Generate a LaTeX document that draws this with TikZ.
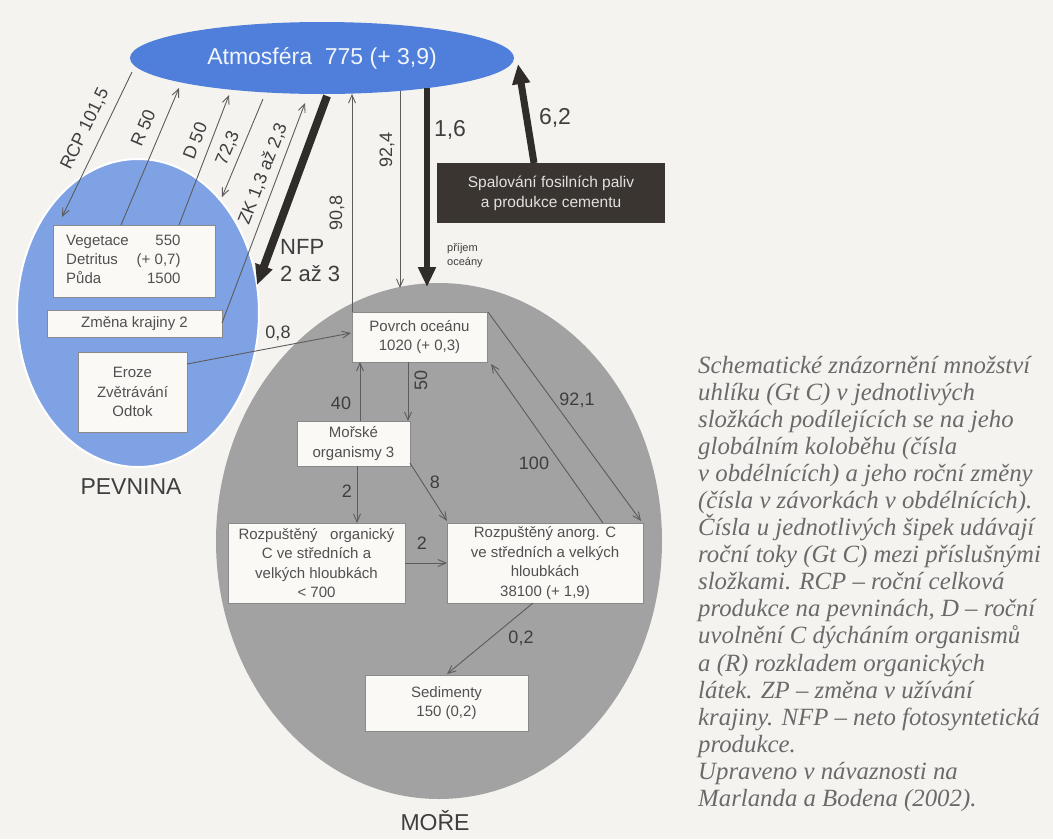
\documentclass[tikz,border=0pt]{standalone}
\usepackage{fontspec}
\setmainfont{Liberation Sans}
\newfontfamily\capfont{Liberation Serif}
\usetikzlibrary{shapes.geometric,arrows.meta,calc}
\definecolor{bgc}{HTML}{F4F3EF}
\definecolor{atmc}{HTML}{4F7FDA}
\definecolor{landc}{HTML}{7FA2E4}
\definecolor{seac}{HTML}{A2A2A2}
\definecolor{boxc}{HTML}{FAF9F5}
\definecolor{boxline}{HTML}{8A8A8A}
\definecolor{txtc}{HTML}{505050}
\definecolor{lblc}{HTML}{3E3E3E}
\definecolor{linec}{HTML}{5C5C5C}
\definecolor{thickc}{HTML}{302C2A}
\definecolor{spalc}{HTML}{3A3531}
\definecolor{capc}{HTML}{6A6A6A}
\tikzset{
  boxn/.style={draw=boxline, line width=0.8pt, fill=boxc, inner sep=0pt, align=center,
    text=txtc, font=\fontsize{15}{19.5}\selectfont},
  thinarr/.style={draw=linec, line width=0.9pt, -{Straight Barb[length=8pt,width=7pt]}},
  thickarr/.style={draw=thickc, line width=7pt, -{Triangle[length=20pt,width=17pt]}},
  flowlbl/.style={text=lblc, inner sep=0pt, font=\fontsize{18}{20}\selectfont},
  biglbl/.style={text=lblc, inner sep=0pt, font=\fontsize{23}{26}\selectfont},
  regionlbl/.style={text=lblc, inner sep=0pt, font=\fontsize{23}{26}\selectfont}
}
\begin{document}
\begin{tikzpicture}[x=1pt,y=-1pt]
\fill[bgc] (0,0) rectangle (1053,839);
\useasboundingbox (0,0) rectangle (1053,839);

% regions
\node[ellipse, fill=seac, minimum width=446pt, minimum height=516pt, inner sep=0pt] (sea) at (439,541) {};
\node[ellipse, fill=landc, draw=white, line width=2pt, minimum width=242pt, minimum height=308pt, inner sep=0pt] (land) at (138,313) {};
\node[ellipse, fill=atmc, minimum width=384pt, minimum height=72pt, inner sep=0pt,
  text=white!92!atmc, font=\fontsize{23}{26}\selectfont] (atm) at (322,58) {Atmosféra\ \ 775 (+ 3,9)};

\node[regionlbl] (pev) at (131,487) {PEVNINA};
\node[regionlbl] (more) at (435,821) {MOŘE};

% boxes
\node[boxn, minimum width=162pt, minimum height=72pt] (veg) at (134,261) {};
\node[text=txtc, inner sep=0pt, font=\fontsize{15}{19}\selectfont, anchor=west] (vegtxt) at (66,261)
  {\begin{tabular}{@{}l@{\hspace{8pt}}r@{}}Vegetace & 550\\ Detritus & (+ 0,7)\\ Půda & 1500\end{tabular}};
\node[boxn, minimum width=175pt, minimum height=27pt] (zmena) at (134.5,323.5) {Změna krajiny 2};
\node[boxn, minimum width=109pt, minimum height=80pt] (eroze) at (132.5,392) {Eroze\\Zvětrávání\\Odtok};
\node[boxn, minimum width=135pt, minimum height=50pt] (povrch) at (419.5,337) {Povrch oceánu\\1020 (+ 0,3)};
\node[boxn, minimum width=113pt, minimum height=45pt] (morske) at (353.5,443.5) {Mořské\\organismy 3};
\node[boxn, minimum width=177pt, minimum height=80pt] (rorg) at (316.5,563) {Rozpuštěný\ \ \ organický\\C ve středních a\\velkých hloubkách\\< 700};
\node[boxn, minimum width=196pt, minimum height=80pt] (ranorg) at (545,563) {Rozpuštěný anorg. C\\ve středních a velkých\\hloubkách\\38100 (+ 1,9)};
\node[boxn, minimum width=163pt, minimum height=56pt] (sed) at (446.5,703) {Sedimenty\\150 (0,2)};
\node[fill=spalc, minimum width=228pt, minimum height=60pt, inner sep=0pt, align=center,
  text=white!85!spalc, font=\fontsize{15.5}{20}\selectfont] (spal) at (551,193) {Spalování fosilních paliv\\ a produkce cementu};

% end points
\coordinate (rcpA) at (132,72);  \coordinate (rcpB) at (62,217);
\coordinate (rA) at (121,225);   \coordinate (rB) at (179,88);
\coordinate (dA) at (179,225);   \coordinate (dB) at (229,95);
\coordinate (vA) at (263,99);    \coordinate (vB) at (222,197);
\coordinate (zA) at (222,323);   \coordinate (zB) at (305,103);
\coordinate (nA) at (327,96);    \coordinate (nB) at (257,285);
\coordinate (oA) at (352,312);   \coordinate (oB) at (352,94);
\coordinate (pA) at (400,91);    \coordinate (pB) at (400,288);
\coordinate (qA) at (427,88);    \coordinate (qB) at (427,287);
\coordinate (fA) at (534,163);   \coordinate (fB) at (518,64);
\coordinate (eA) at (187,364);   \coordinate (eB) at (351,333);
\coordinate (s50A) at (408,362); \coordinate (s50B) at (408,421);
\coordinate (s40A) at (360,421); \coordinate (s40B) at (360,362);
\coordinate (s2A) at (357,466);  \coordinate (s2B) at (357,523);
\coordinate (s8A) at (410,463);  \coordinate (s8B) at (447,521);
\coordinate (h2A) at (405,563);  \coordinate (h2B) at (447,563);
\coordinate (c100A) at (603,523);\coordinate (c100B) at (491,364);
\coordinate (c92A) at (488,312); \coordinate (c92B) at (641,521);
\coordinate (c02A) at (533,603); \coordinate (c02B) at (447,674);

% atmosphere fluxes
\draw[thinarr] (rcpA) -- (rcpB);
\draw[thinarr] (rA) -- (rB);
\draw[thinarr] (dA) -- (dB);
\draw[thinarr] (vA) -- (vB);
\draw[thinarr] (zA) -- (zB);
\draw[thickarr, line width=8pt] (nA) -- (nB);
\draw[thinarr] (oA) -- (oB);
\draw[thinarr] (pA) -- (pB);
\draw[thickarr, line width=6.5pt] (qA) -- (qB);
\draw[thickarr] (fA) -- (fB);

\node[flowlbl, rotate=64] (lrcp) at (85,129) {RCP 101,5};
\node[flowlbl, rotate=67] (lr) at (143,128) {R 50};
\node[flowlbl, rotate=69] (ld) at (195,141) {D 50};
\node[flowlbl, rotate=67] (lv) at (228,148) {72,3};
\node[flowlbl, rotate=69] (lz) at (263,174) {ZK 1,3 až 2,3};
\node[biglbl, align=left, anchor=west, font=\fontsize{22}{27}\selectfont] (lnfp) at (280,261) {NFP\\2 až 3};
\node[flowlbl, rotate=90] (lo) at (337,213) {90,8};
\node[flowlbl, rotate=90] (lp) at (387,150) {92,4};
\node[biglbl] (lq) at (450,130) {1,6};
\node[text=lblc, inner sep=0pt, align=left, anchor=west, font=\fontsize{11}{14}\selectfont] (lpri) at (447,256) {příjem\\oceány};
\node[biglbl] (lf) at (555,118) {6,2};

% ocean fluxes
\draw[thinarr] (eA) -- (eB);
\draw[thinarr] (s50A) -- (s50B);
\draw[thinarr] (s40A) -- (s40B);
\draw[thinarr] (s2A) -- (s2B);
\draw[thinarr] (s8A) -- (s8B);
\draw[thinarr] (h2A) -- (h2B);
\draw[thinarr] (c100A) -- (c100B);
\draw[thinarr] (c92A) -- (c92B);
\draw[thinarr] (c02A) -- (c02B);

\node[flowlbl] (le) at (278,333) {0,8};
\node[flowlbl, rotate=90] (l50) at (421,380) {50};
\node[flowlbl] (l40) at (341,403) {40};
\node[flowlbl] (l2a) at (347,491) {2};
\node[flowlbl] (l8) at (435,482) {8};
\node[flowlbl] (l2b) at (422,543) {2};
\node[flowlbl] (l100) at (534,463) {100};
\node[flowlbl] (l92) at (577,400) {92,1};
\node[flowlbl] (l02) at (521,638) {0,2};

% caption
\node[anchor=north west, inner sep=0pt, align=left, text=capc,
  font=\capfont\itshape\fontsize{24.8}{27.05}\selectfont] (cap) at (698,356) {%
Schematické znázornění množství\\
uhlíku (Gt C) v jednotlivých\\
složkách podílejících se na jeho\\
globálním koloběhu (čísla\\
v obdélnících) a jeho roční změny\\
(čísla v závorkách v obdélnících).\\
Čísla u jednotlivých šipek udávají\\
roční toky (Gt C) mezi příslušnými\\
složkami. RCP – roční celková\\
produkce na pevninách, D – roční\\
uvolnění C dýcháním organismů\\
a (R) rozkladem organických\\
látek. ZP – změna v užívání\\
krajiny. NFP – neto fotosyntetická\\
produkce.\\
Upraveno v návaznosti na\\
Marlanda a Bodena (2002).};
\end{tikzpicture}
\end{document}
